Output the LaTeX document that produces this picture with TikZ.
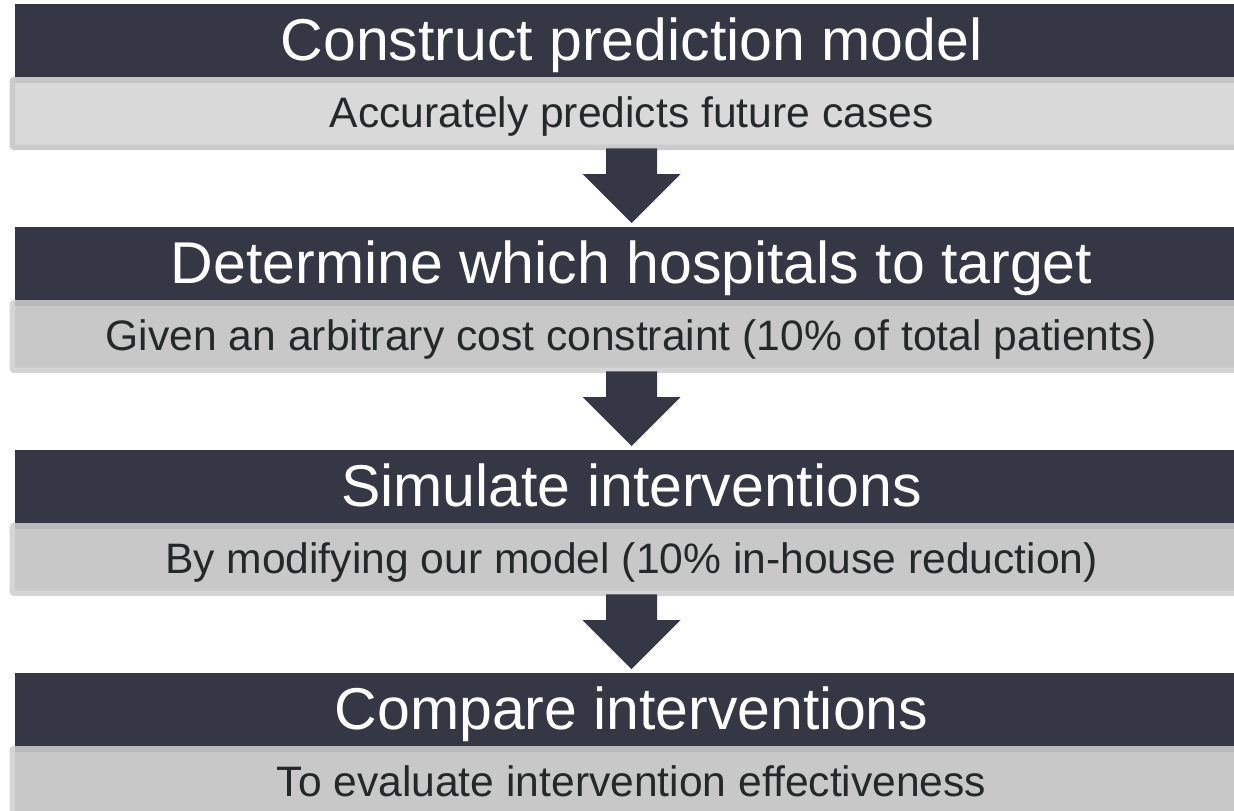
\documentclass[tikz,border=0pt]{standalone}
\usepackage{fontspec}
\setmainfont{Liberation Sans}
\usetikzlibrary{calc}
\definecolor{barc}{HTML}{363745}
\definecolor{subtext}{HTML}{252829}
\definecolor{liteFill}{HTML}{D9D9D9}
\definecolor{liteEdge}{HTML}{CBCBCB}
\definecolor{liteShade}{HTML}{C5C5C5}
\definecolor{darkFill}{HTML}{C8C8C8}
\definecolor{darkEdge}{HTML}{D5D5D5}
\definecolor{darkShade}{HTML}{B9B9B9}
\tikzset{
  titlebar/.style={fill=barc, text=white, inner sep=0pt, outer sep=0pt,
    minimum width=1233pt, text height=56pt, text depth=17pt,
    font=\fontsize{59}{59}\selectfont, anchor=north west},
  subbox/.style={inner sep=0pt, outer sep=0pt, line width=5.5pt,
    rounded corners=2pt, minimum width=1238.5pt,
    text height=47.25pt, text depth=20.25pt, text=subtext,
    font=\fontsize{42.6}{42.6}\selectfont, anchor=north west},
  subfirst/.style={subbox, fill=liteFill, draw=liteEdge},
  subrest/.style={subbox, fill=darkFill, draw=darkEdge},
  flowarrow/.style={fill=barc}
}
\begin{document}
\begin{tikzpicture}[x=1pt,y=-1pt]
\useasboundingbox (0,0) rectangle (1234,811);
\clip (0,0) rectangle (1234,811);

% grey description boxes (drawn first, the bars sit on top)
\node[subfirst] (sub1) at (12.25,79.75) {Accurately predicts future cases};
\node[subrest]  (sub2) at (12.25,302.75) {Given an arbitrary cost constraint (10\% of total patients)};
\node[subrest]  (sub3) at (12.25,525.75) {By modifying our model (10\% in-house reduction)};
\node[subrest]  (sub4) at (12.25,748.75) {To evaluate intervention effectiveness};

% dark title bars
\node[titlebar] (bar1) at (15,4)   {Construct prediction model};
\node[titlebar] (bar2) at (15,227) {Determine which hospitals to target};
\node[titlebar] (bar3) at (15,450) {Simulate interventions};
\node[titlebar] (bar4) at (15,673) {Compare interventions};

% soft shade cast by each bar onto its box
\fill[liteShade] (bar1.south west) rectangle ($(bar1.south east)+(0,5.5)$);
\foreach \b in {bar2,bar3,bar4}
  \fill[darkShade] (\b.south west) rectangle ($(\b.south east)+(0,5.5)$);

% block arrows from each box to the next bar
\foreach \s/\n in {sub1/bar2, sub2/bar3, sub3/bar4}
  \fill[flowarrow]
    ($(\s.south)+(-25.5,1)$) -- ($(\s.south)+(25.5,1)$)
    -- ($(\n.north)+(25.5,-53)$) -- ($(\n.north)+(49,-53)$)
    -- ($(\n.north)+(0,-4)$)
    -- ($(\n.north)+(-49,-53)$) -- ($(\n.north)+(-25.5,-53)$) -- cycle;
\end{tikzpicture}
\end{document}
